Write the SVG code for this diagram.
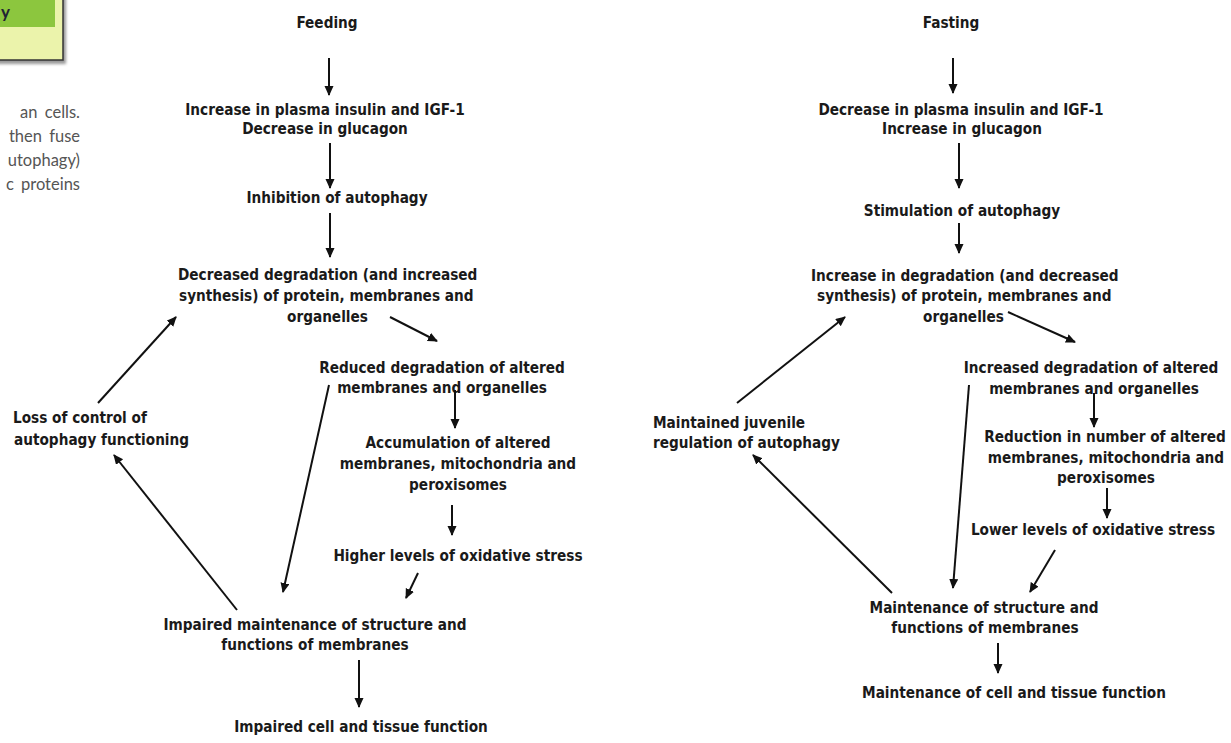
<svg xmlns="http://www.w3.org/2000/svg" width="1231" height="743" viewBox="0 0 1231 743">
<style>
.t{font-family:"DejaVu Sans Condensed","DejaVu Sans",sans-serif;font-stretch:condensed;font-weight:bold;font-size:15.2px;fill:#1a1a1a;text-anchor:middle}
.s{text-anchor:start}
.side{font-family:"Lato","Noto Sans",sans-serif;font-size:16.5px;fill:#555;text-anchor:end;word-spacing:3px}
.c line{stroke:#111;stroke-width:2;marker-end:url(#ah)}
</style>
<defs>
<marker id="ah" markerUnits="userSpaceOnUse" markerWidth="11" markerHeight="10" refX="9" refY="4.5" orient="auto">
<path d="M0,0 L10,4.5 L0,9 z" fill="#111"/>
</marker>
<filter id="sh" x="-20%" y="-20%" width="150%" height="150%"><feGaussianBlur stdDeviation="1.5"/></filter>
</defs>
<rect width="1231" height="743" fill="#fff"/>
<g id="header-box">
<rect x="-4" y="-4" width="70" height="68" fill="#999" filter="url(#sh)"/>
<rect x="-4" y="-4" width="67" height="64" fill="#ebf3ab" stroke="#333" stroke-width="1.5"/>
<rect x="-4" y="-4" width="59" height="31" fill="#8cc63e"/>
<text x="1" y="18" style="font-family:'Lato','Noto Sans',sans-serif;font-size:17px;font-weight:bold;fill:#223">y</text>
</g>
<g id="side-text">
<text class="side" x="80" y="118">an  cells.</text>
<text class="side" x="80" y="142">then fuse</text>
<text class="side" x="80" y="166">utophagy)</text>
<text class="side" x="80" y="190">c proteins</text>
</g>
<g id="feeding"><text class="t" x="327" y="28">Feeding</text></g>
<g id="insulin-up"><text class="t" x="325" y="115">Increase in plasma insulin and IGF-1</text><text class="t" x="325" y="134">Decrease in glucagon</text></g>
<g id="inhibition"><text class="t" x="337" y="203">Inhibition of autophagy</text></g>
<g id="decreased-degradation"><text class="t s" x="178" y="280">Decreased degradation (and increased</text><text class="t s" x="179" y="301">synthesis) of protein, membranes and</text><text class="t s" x="287" y="322">organelles</text></g>
<g id="reduced-degradation"><text class="t" x="442" y="373">Reduced degradation of altered</text><text class="t" x="442" y="393">membranes and organelles</text></g>
<g id="accumulation"><text class="t" x="458" y="448">Accumulation of altered</text><text class="t" x="458" y="469">membranes, mitochondria and</text><text class="t" x="458" y="490">peroxisomes</text></g>
<g id="higher-stress"><text class="t" x="458" y="561">Higher levels of oxidative stress</text></g>
<g id="impaired-maintenance"><text class="t" x="315" y="630">Impaired maintenance of structure and</text><text class="t" x="315" y="650">functions of  membranes</text></g>
<g id="impaired-cell"><text class="t" x="361" y="732">Impaired cell and tissue function</text></g>
<g id="loss-control"><text class="t s" x="13" y="423">Loss of control of</text><text class="t s" x="14" y="445">autophagy functioning</text></g>
<g id="fasting"><text class="t" x="951" y="28">Fasting</text></g>
<g id="insulin-down"><text class="t" x="961" y="115">Decrease in plasma insulin and IGF-1</text><text class="t" x="962" y="134">Increase in glucagon</text></g>
<g id="stimulation"><text class="t" x="962" y="216">Stimulation of autophagy</text></g>
<g id="increase-degradation"><text class="t s" x="811" y="281">Increase in degradation (and decreased</text><text class="t s" x="817" y="301">synthesis) of protein, membranes and</text><text class="t s" x="923" y="322">organelles</text></g>
<g id="increased-degradation"><text class="t" x="1091" y="373">Increased degradation of altered</text><text class="t" x="1094" y="394">membranes and organelles</text></g>
<g id="reduction"><text class="t" x="1105" y="442">Reduction in number of altered</text><text class="t" x="1106" y="463">membranes, mitochondria and</text><text class="t" x="1106" y="483">peroxisomes</text></g>
<g id="lower-stress"><text class="t" x="1093" y="535">Lower levels of oxidative stress</text></g>
<g id="maintenance"><text class="t" x="984" y="613">Maintenance of structure and</text><text class="t" x="985" y="633">functions of  membranes</text></g>
<g id="maintenance-cell"><text class="t" x="1014" y="698">Maintenance of cell and tissue function</text></g>
<g id="juvenile"><text class="t s" x="653" y="428">Maintained juvenile</text><text class="t s" x="653" y="448">regulation of autophagy</text></g>
<g id="connectors" class="c">
<line x1="329" y1="58" x2="329" y2="95"/>
<line x1="330" y1="143" x2="330" y2="188"/>
<line x1="330" y1="213" x2="330" y2="257"/>
<line x1="390" y1="317" x2="437" y2="341"/>
<line x1="455" y1="390" x2="455" y2="428"/>
<line x1="329" y1="385" x2="283" y2="592"/>
<line x1="452" y1="505" x2="452" y2="535"/>
<line x1="418" y1="573" x2="406" y2="598"/>
<line x1="359" y1="660" x2="359" y2="707"/>
<line x1="237" y1="610" x2="114" y2="455"/>
<line x1="98" y1="403" x2="176" y2="317"/>
<line x1="953" y1="58" x2="953" y2="93"/>
<line x1="959" y1="143" x2="959" y2="188"/>
<line x1="959" y1="223" x2="959" y2="253"/>
<line x1="1008" y1="312" x2="1075" y2="342"/>
<line x1="1094" y1="393" x2="1094" y2="427"/>
<line x1="969" y1="385" x2="953" y2="588"/>
<line x1="1107" y1="488" x2="1107" y2="518"/>
<line x1="1055" y1="550" x2="1030" y2="592"/>
<line x1="998" y1="643" x2="998" y2="673"/>
<line x1="892" y1="593" x2="753" y2="455"/>
<line x1="737" y1="403" x2="845" y2="317"/>
</g>
</svg>
